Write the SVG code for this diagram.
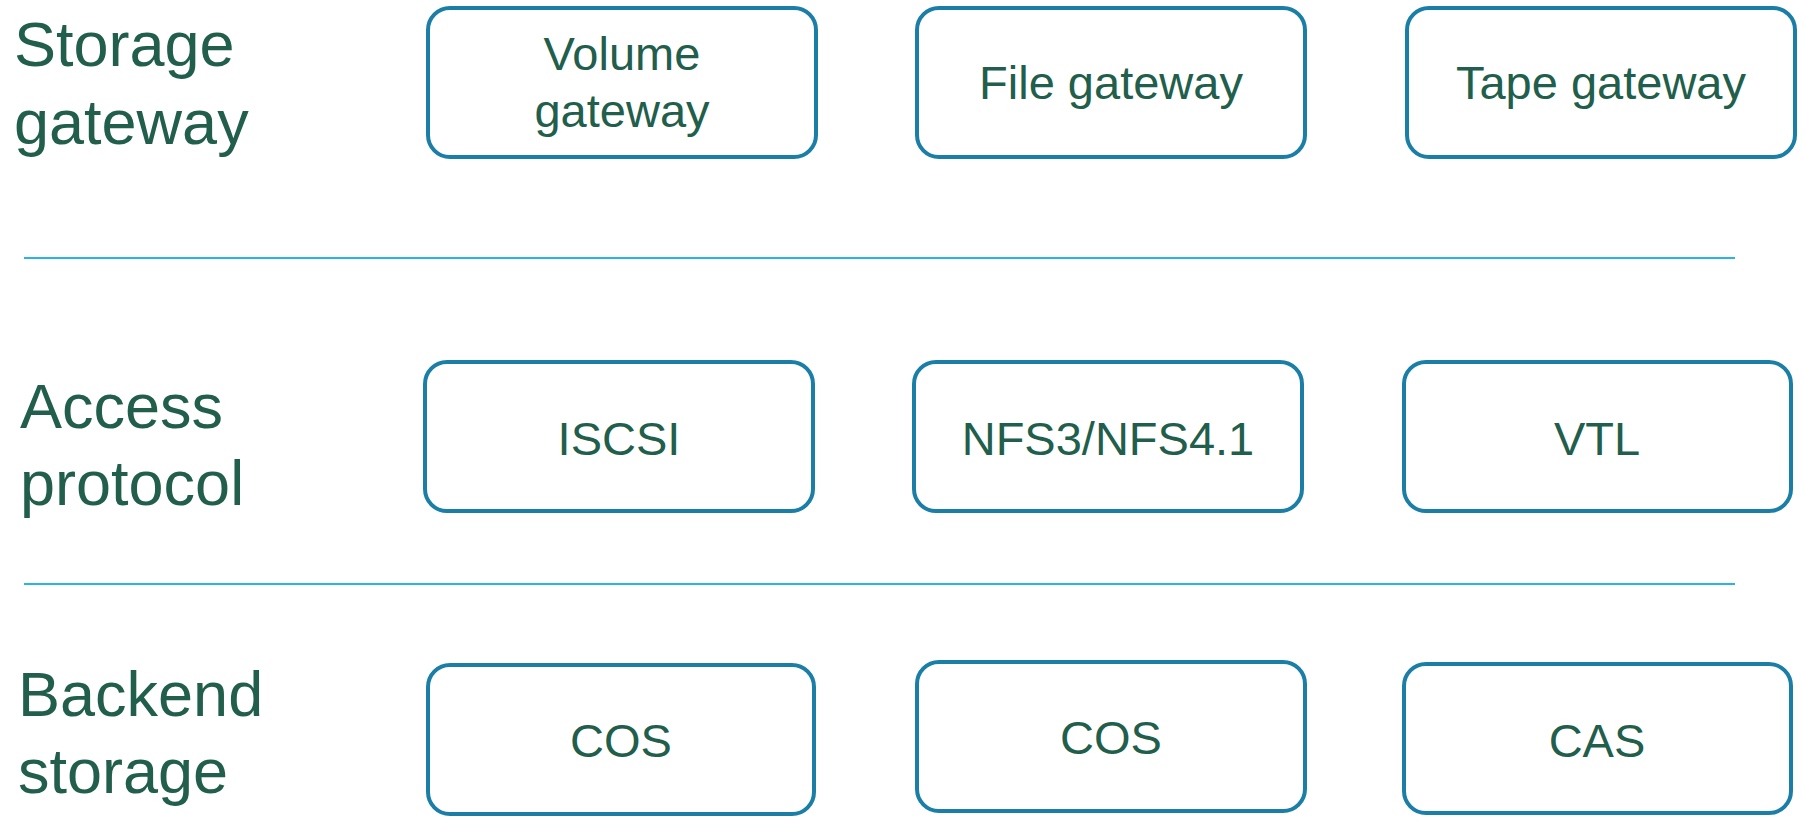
<svg xmlns="http://www.w3.org/2000/svg" width="1805" height="822" viewBox="0 0 1805 822">
  <style>
    .lbl { font-family: "Liberation Sans", Arial, sans-serif; fill: #215e4b; }
    .row { font-size: 63px; }
    .box rect { fill: #ffffff; stroke: #1a7ea7; stroke-width: 4; }
    .box text { font-size: 47px; text-anchor: middle; }
    .divider { stroke: #2ab3e6; stroke-width: 2; }
  </style>
  <rect width="1805" height="822" fill="#ffffff"/>

  <!-- layer separators -->
  <g id="connectors">
    <line class="divider" x1="24" y1="258" x2="1735" y2="258"/>
    <line class="divider" x1="24" y1="584" x2="1735" y2="584"/>
  </g>

  <!-- row headings -->
  <g id="heading-gateway">
    <text class="lbl row" x="14" y="66">Storage</text>
    <text class="lbl row" x="14" y="144">gateway</text>
  </g>
  <g id="heading-protocol">
    <text class="lbl row" x="20" y="428">Access</text>
    <text class="lbl row" x="20" y="505">protocol</text>
  </g>
  <g id="heading-backend">
    <text class="lbl row" x="18" y="716">Backend</text>
    <text class="lbl row" x="18" y="793">storage</text>
  </g>

  <!-- gateway row -->
  <g id="volume-gateway" class="box">
    <rect x="428" y="8" width="388" height="149" rx="22"/>
    <text class="lbl" x="622" y="70">Volume</text>
    <text class="lbl" x="622" y="127">gateway</text>
  </g>
  <g id="file-gateway" class="box">
    <rect x="917" y="8" width="388" height="149" rx="22"/>
    <text class="lbl" x="1111" y="99">File gateway</text>
  </g>
  <g id="tape-gateway" class="box">
    <rect x="1407" y="8" width="388" height="149" rx="22"/>
    <text class="lbl" x="1601" y="99">Tape gateway</text>
  </g>

  <!-- protocol row -->
  <g id="iscsi" class="box">
    <rect x="425" y="362" width="388" height="149" rx="22"/>
    <text class="lbl" x="619" y="455">ISCSI</text>
  </g>
  <g id="nfs" class="box">
    <rect x="914" y="362" width="388" height="149" rx="22"/>
    <text class="lbl" x="1108" y="455">NFS3/NFS4.1</text>
  </g>
  <g id="vtl" class="box">
    <rect x="1404" y="362" width="387" height="149" rx="22"/>
    <text class="lbl" x="1597" y="455">VTL</text>
  </g>

  <!-- backend row -->
  <g id="cos-volume" class="box">
    <rect x="428" y="665" width="386" height="149" rx="22"/>
    <text class="lbl" x="621" y="757">COS</text>
  </g>
  <g id="cos-file" class="box">
    <rect x="917" y="662" width="388" height="149" rx="22"/>
    <text class="lbl" x="1111" y="754">COS</text>
  </g>
  <g id="cas" class="box">
    <rect x="1404" y="664" width="387" height="149" rx="22"/>
    <text class="lbl" x="1597" y="757">CAS</text>
  </g>
</svg>
